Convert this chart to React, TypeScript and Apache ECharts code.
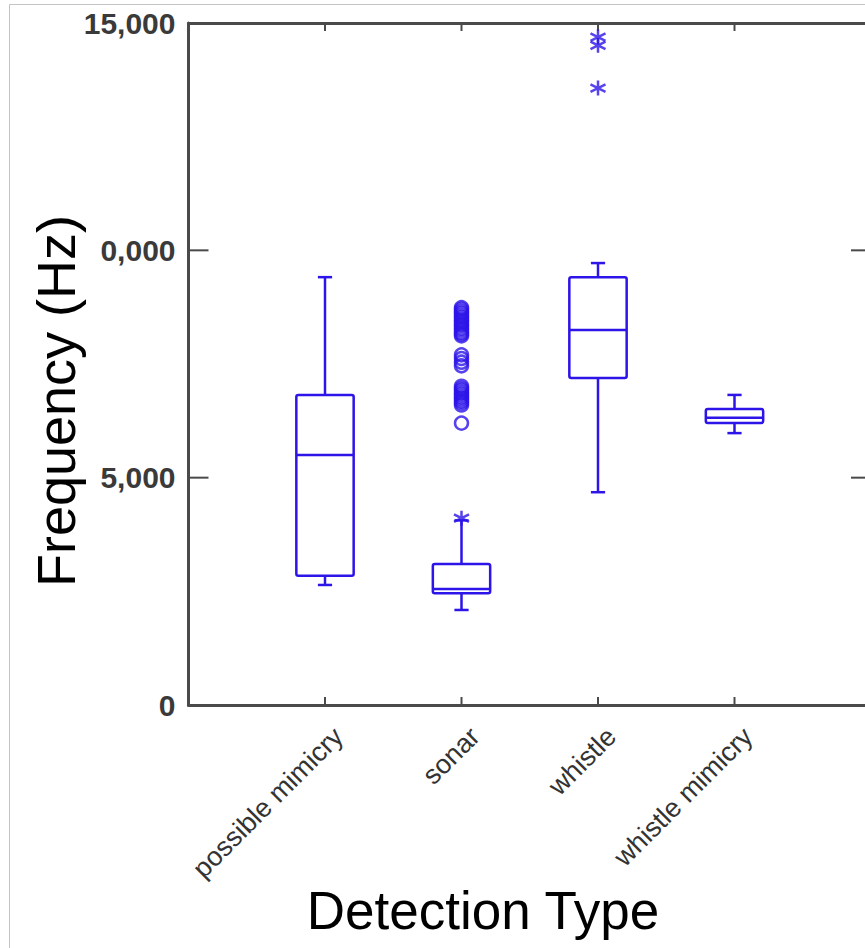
import React, { useEffect, useRef } from "react";
import * as echarts from "echarts";

// ---- data ----
const categories = ["possible mimicry", "sonar", "whistle", "whistle mimicry"];
const whiskerLow = [2640, 2090, 4680, 5980];
const q1 = [2840, 2460, 7190, 6200];
const median = [5500, 2550, 8250, 6320];
const q3 = [6820, 3100, 9410, 6510];
const whiskerHigh = [9410, 4060, 9720, 6820];
// outside values (asterisks)
const outsideValues = [[], [4110], [14690, 14510, 13570], []];
// far outside values (circles)
const farOutsideValues = [
  [],
  [
    8740, 8700, 8650, 8610, 8560, 8520, 8470, 8430, 8380, 8340, 8290, 8250, 8200, 8160, 8120,
    7700, 7620, 7540, 7460,
    7010, 6960, 6920, 6870, 6830, 6780, 6740, 6690, 6650, 6600,
    6200,
  ],
  [],
  [],
];
const yTickValues = [0, 5000, 10000, 15000];
const yTickLabels = ["0", "5,000", "0,000", "15,000"];
const xTitle = "Detection Type";
const yTitle = "Frequency (Hz)";

const BLUE = "#2d14e8";
const AXIS = "#4a4a4a";
const FONT = "'Liberation Sans', Arial, sans-serif";

export default function App() {
  const ref = useRef<HTMLDivElement>(null);
  useEffect(() => {
    if (!ref.current) return;
    const chart = echarts.init(ref.current, null, { renderer: "svg", width: 865, height: 948 });

    const boxData = categories.map((_, i) => [i + 1, whiskerLow[i], q1[i], median[i], q3[i], whiskerHigh[i]]);
    const starData: number[][] = [];
    outsideValues.forEach((arr, i) => arr.forEach((v) => starData.push([i + 1, v])));
    const circleData: number[][] = [];
    farOutsideValues.forEach((arr, i) => arr.forEach((v) => circleData.push([i + 1, v])));

    const xMax = categories.length + 1;
    const yMax = yTickValues[yTickValues.length - 1];
    // tick marks: [x, y, side] side 0=left,1=right,2=bottom,3=top
    const tickData: number[][] = [
      ...yTickValues.map((v) => [0, v, 0]),
      ...yTickValues.map((v) => [xMax, v, 1]),
      ...categories.map((_, i) => [i + 1, 0, 2]),
      ...categories.map((_, i) => [i + 1, yMax, 3]),
    ];

    const common = { min: 0, max: xMax, interval: 1, type: "value" as const, splitLine: { show: false } };
    const yCommon = { type: "value" as const, min: 0, max: yMax, interval: 5000, splitLine: { show: false } };
    const line = { show: true, onZero: false, lineStyle: { color: AXIS, width: 3 } };

    const option: any = {
      animation: false,
      backgroundColor: "#ffffff",
      grid: [
        { left: 188.5, top: 23, width: 682.5, height: 682, outerBoundsMode: "none", containLabel: false },
        { left: 202, top: 23, width: 682.5, height: 682, outerBoundsMode: "none", containLabel: false },
      ],
      xAxis: [
        {
          ...common,
          gridIndex: 0,
          position: "bottom",
          axisLine: line,
          axisTick: { show: false },
          axisLabel: { show: false },
        },
        {
          ...common,
          gridIndex: 0,
          position: "top",
          axisLine: line,
          axisTick: { show: false },
          axisLabel: { show: false },
        },
        {
          ...common,
          gridIndex: 1,
          position: "bottom",
          axisLine: { show: false, onZero: false },
          axisTick: { show: false },
          axisLabel: {
            show: true,
            rotate: 45,
            margin: 27,
            fontSize: 27,
            fontFamily: FONT,
            color: "#333",
            formatter: (v: number) => categories[Math.round(v) - 1] ?? "",
          },
        },
      ],
      yAxis: [
        {
          ...yCommon,
          gridIndex: 0,
          position: "left",
          axisLine: line,
          axisTick: { show: false },
          axisLabel: {
            show: true,
            margin: 13,
            fontSize: 30,
            fontWeight: "bold",
            fontFamily: FONT,
            color: "#3a3a3a",
            formatter: (v: number) => {
              const k = yTickValues.indexOf(v);
              return k >= 0 ? yTickLabels[k] : "";
            },
          },
        },
        {
          ...yCommon,
          gridIndex: 0,
          position: "right",
          axisLine: { show: false, onZero: false },
          axisTick: { show: false },
          axisLabel: { show: false },
        },
        { ...yCommon, gridIndex: 1, show: false },
      ],
      graphic: [
        {
          type: "rect",
          silent: true,
          shape: { x: 9.5, y: 4.5, width: 900, height: 960 },
          style: { fill: "none", stroke: "#c4c4c4", lineWidth: 1 },
          z: 0,
        },
        {
          type: "text",
          x: 483,
          y: 910,
          style: { text: xTitle, font: `53px ${FONT}`, fill: "#000", align: "center", verticalAlign: "middle" },
        },
        {
          type: "text",
          x: 56,
          y: 401,
          rotation: Math.PI / 2,
          style: { text: yTitle, font: `54px ${FONT}`, fill: "#000", align: "center", verticalAlign: "middle" },
        },
      ],
      series: [
        {
          type: "custom",
          name: "ticks",
          xAxisIndex: 0,
          yAxisIndex: 0,
          clip: false,
          silent: true,
          data: tickData,
          encode: { x: 0, y: 1 },
          renderItem: (params: any, api: any) => {
            const p = api.coord([api.value(0), api.value(1)]);
            const side = api.value(2);
            const yl = 20;
            const xl = 8;
            const d =
              side === 0 ? [yl, 0] : side === 1 ? [-yl, 0] : side === 2 ? [0, -xl] : [0, xl];
            return {
              type: "line",
              shape: { x1: p[0], y1: p[1], x2: p[0] + d[0], y2: p[1] + d[1] },
              style: { stroke: AXIS, lineWidth: 2 },
            };
          },
        },
        {
          type: "custom",
          xAxisIndex: 0,
          yAxisIndex: 0,
          data: boxData,
          encode: { x: 0, y: [1, 2, 3, 4, 5] },
          renderItem: (params: any, api: any) => {
            const x = api.value(0);
            const lo = api.coord([x, api.value(1)]);
            const a = api.coord([x, api.value(2)]);
            const m = api.coord([x, api.value(3)]);
            const b = api.coord([x, api.value(4)]);
            const hi = api.coord([x, api.value(5)]);
            const band = api.size([1, 0])[0];
            const hw = band * 0.21;
            const cw = band * 0.052;
            const style = { stroke: BLUE, lineWidth: 2.5, fill: "none" };
            return {
              type: "group",
              children: [
                { type: "line", shape: { x1: lo[0], y1: lo[1], x2: a[0], y2: a[1] }, style },
                { type: "line", shape: { x1: b[0], y1: b[1], x2: hi[0], y2: hi[1] }, style },
                { type: "line", shape: { x1: lo[0] - cw, y1: lo[1], x2: lo[0] + cw, y2: lo[1] }, style },
                { type: "line", shape: { x1: hi[0] - cw, y1: hi[1], x2: hi[0] + cw, y2: hi[1] }, style },
                { type: "rect", shape: { x: b[0] - hw, y: b[1], width: 2 * hw, height: a[1] - b[1], r: 2 }, style },
                { type: "line", shape: { x1: m[0] - hw, y1: m[1], x2: m[0] + hw, y2: m[1] }, style },
              ],
            };
          },
        },
        {
          type: "scatter",
          xAxisIndex: 0,
          yAxisIndex: 0,
          data: circleData,
          symbol: "circle",
          symbolSize: 13,
          itemStyle: { color: "rgba(0,0,0,0)", borderColor: BLUE, borderWidth: 2.5 },
        },
        {
          type: "scatter",
          xAxisIndex: 0,
          yAxisIndex: 0,
          data: starData,
          symbol: "path://M0 -10 L0 10 M-8.66 -5 L8.66 5 M-8.66 5 L8.66 -5",
          symbolSize: 15,
          itemStyle: { color: "rgba(0,0,0,0)", borderColor: BLUE, borderWidth: 2.5 },
        },
      ],
    };
    chart.setOption(option);
    return () => chart.dispose();
  }, []);
  return (
    <div
      ref={ref}
      style={{ position: "fixed", left: 0, top: 0, width: 865, height: 948, background: "#fff" }}
    />
  );
}
